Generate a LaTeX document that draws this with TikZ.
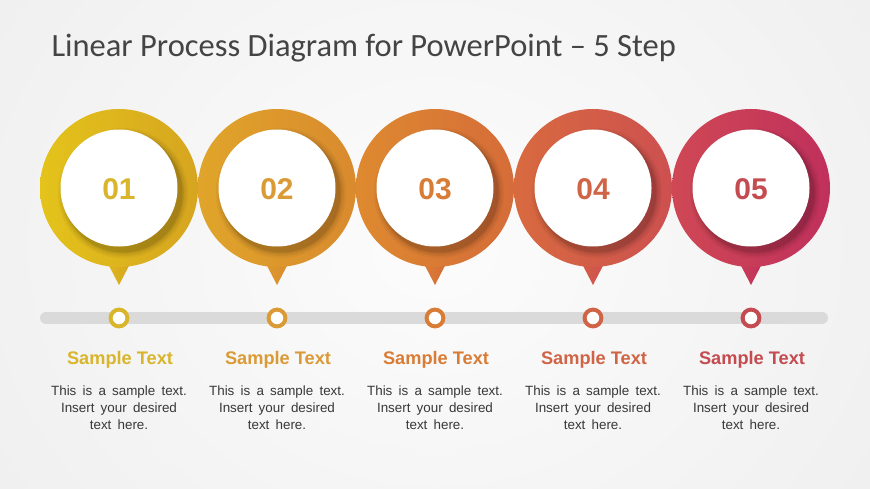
\documentclass[tikz,border=0pt]{standalone}
\usepackage{fontspec}
\setmainfont{Liberation Sans}
\newfontfamily\titlefont{Carlito}
\usetikzlibrary{shadings}
\newcommand\widesp{\spaceskip=6.2pt\relax}
\definecolor{bgedge}{HTML}{ECECEC}
\definecolor{bgmid}{HTML}{FCFCFC}
\definecolor{barc}{HTML}{DADADA}
\definecolor{titlec}{HTML}{444444}
\definecolor{bodyc}{HTML}{383838}
% ring colours left/right
\definecolor{rLa}{HTML}{E4C31B}\definecolor{rRa}{HTML}{D6A520}
\definecolor{rLb}{HTML}{E0A52A}\definecolor{rRb}{HTML}{D98A2E}
\definecolor{rLc}{HTML}{DE8A30}\definecolor{rRc}{HTML}{D56C39}
\definecolor{rLd}{HTML}{D86A3F}\definecolor{rRd}{HTML}{CD5050}
\definecolor{rLe}{HTML}{CF4855}\definecolor{rRe}{HTML}{C0305C}
% accent colours (numbers, markers, labels)
\definecolor{aa}{HTML}{D9B52C}
\definecolor{ab}{HTML}{DA9A36}
\definecolor{ac}{HTML}{D87C36}
\definecolor{ad}{HTML}{D06446}
\definecolor{ae}{HTML}{C44B50}
\tikzset{
  numtext/.style={font=\fontsize{30}{30}\selectfont\bfseries},
  labtext/.style={font=\fontsize{18.2}{19}\selectfont\bfseries},
  bodytext/.style={font=\fontsize{13.4}{17}\selectfont, text=bodyc, align=center},
  titletext/.style={font=\fontsize{32.5}{34}\selectfont\titlefont, text=titlec, anchor=base west},
}
\begin{document}
\begin{tikzpicture}[x=1pt,y=-1pt]
\useasboundingbox (0,0) rectangle (870,489);
\shade[inner color=bgmid, outer color=bgedge] (-250,-350) rectangle (1120,839);
\clip (0,0) rectangle (870,489);
% title
\node[titletext] (title) at (48,57) {Linear Process Diagram for PowerPoint – 5 Step};
% timeline bar
\draw[barc, line width=12pt, line cap=round] (46,318) coordinate (barL) -- (822,318) coordinate (barR);
% steps
\foreach \i/\x/\L/\R/\A in {1/119/rLa/rRa/aa, 2/277/rLb/rRb/ab, 3/435/rLc/rRc/ac, 4/593/rLd/rRd/ad, 5/751/rLe/rRe/ae}{
  % pointer
  \shade[left color=\L!60!\R, right color=\R] (\x-14,258) -- (\x+14,258) -- (\x,285) -- cycle;
  % ring
  \shade[left color=\L, right color=\R] (\x,188) circle (79);
  \begin{scope}
    \clip (\x,188) circle (79);
    \foreach \r/\o in {65/0.04, 63/0.05, 61/0.07, 59.5/0.09}{
      \fill[black, opacity=\o] (\x+4,193) circle (\r);
    }
  \end{scope}
  \fill[white] (\x,188) circle (58.5);
  \node[numtext, text=\A] (num\i) at (\x,189) {0\i};
  % marker
  \draw[\A, line width=4pt, fill=white] (\x,318) circle (8.4);
  \coordinate (mark\i) at (\x,318);
  % labels
  \node[labtext, text=\A] (lab\i) at (\x+1,360) {Sample Text};
  \node[bodytext] (body\i) at (\x,408) {\widesp This is a sample text.\\\widesp Insert your desired\\\widesp text here.};
}
\end{tikzpicture}
\end{document}
